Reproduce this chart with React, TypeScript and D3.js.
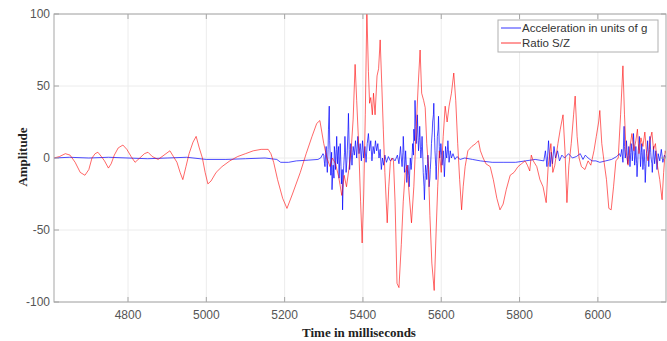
import * as d3 from 'd3';
import React from 'react';

// [time in ms, amplitude]
const acceleration: [number, number][] = [
  [4611, 0], [4650, 0.5], [4700, 0], [4750, 0.5], [4800, 0], [4850, -0.5], [4900, 0], [4950, 0.5],
  [5000, -1], [5050, -1], [5100, -0.5], [5150, 0], [5180, -1], [5190, -3], [5210, -3], [5230, -2],
  [5260, -1.5], [5285, -1], [5292, 0], [5298, 3], [5300, 2], [5302, -4], [5303, -6], [5305, 4],
  [5306, 8], [5308, -4], [5309, -10], [5311, 6], [5312, 20], [5314, 36], [5315, 12], [5316, 5],
  [5318, -12], [5320, 4], [5321, -22], [5323, -10], [5324, -5], [5326, -14], [5327, 8], [5329, 2],
  [5330, -8], [5332, 6], [5333, 15], [5335, -4], [5336, 2], [5338, 8], [5339, -14], [5341, 0],
  [5342, 10], [5344, -6], [5345, -18], [5347, -8], [5348, -36], [5350, -12], [5351, -5], [5353, 4],
  [5354, 15], [5356, 0], [5357, -10], [5359, -2], [5360, 5], [5362, 20], [5363, 31], [5365, 6],
  [5366, -8], [5368, 2], [5369, 10], [5371, 0], [5372, -5], [5374, 4], [5375, 8], [5378, 2],
  [5381, 12], [5384, 0], [5387, 15], [5390, 3], [5393, 10], [5396, -2], [5399, 12], [5402, 0],
  [5405, 8], [5408, -3], [5411, 10], [5414, 17], [5417, 5], [5420, 12], [5423, -2], [5426, 8],
  [5429, 3], [5432, 12], [5435, 5], [5438, 10], [5441, 0], [5444, 6], [5447, -8], [5450, 0],
  [5453, -5], [5456, 2], [5460, -3], [5465, 1], [5470, -2], [5476, 0], [5482, -2], [5488, 2],
  [5492, -4], [5494, 2], [5496, 8], [5498, 0], [5500, -6], [5502, 4], [5503, 15], [5505, 2],
  [5506, -10], [5508, -2], [5509, 5], [5511, -6], [5512, -17], [5514, -8], [5515, -5], [5517, -12],
  [5518, -20], [5520, -6], [5521, 0], [5523, -8], [5524, -5], [5526, 4], [5527, 10], [5529, 2],
  [5530, 20], [5532, 12], [5533, 40], [5535, 22], [5536, 10], [5538, 18], [5539, 30], [5541, 12],
  [5542, 5], [5544, 14], [5545, 22], [5547, 6], [5548, 0], [5550, 8], [5551, 15], [5553, 0],
  [5554, -10], [5556, -20], [5557, -29], [5559, -12], [5560, -5], [5562, -10], [5563, -15], [5565, -4],
  [5566, 2], [5568, -8], [5569, -20], [5571, -14], [5572, -8], [5574, 2], [5575, 10], [5577, 18],
  [5578, 25], [5580, 30], [5581, 38], [5583, 14], [5584, 5], [5586, -6], [5587, -15], [5589, 4],
  [5590, 15], [5592, 20], [5593, 29], [5595, 8], [5596, 0], [5598, 4], [5599, 10], [5601, 2],
  [5602, -5], [5604, 0], [5605, 5], [5607, -6], [5608, -13], [5610, 0], [5611, 8], [5613, 2],
  [5614, 0], [5616, 6], [5617, 12], [5619, 2], [5620, -3], [5623, 5], [5626, 0], [5630, 3],
  [5635, -1], [5640, 1], [5648, -1], [5660, 0], [5680, -1], [5700, -2], [5730, -3], [5760, -3],
  [5790, -3], [5815, -2], [5840, -1], [5862, -2], [5866, 5], [5870, -6], [5874, 12], [5878, -6],
  [5881, 4], [5884, -4], [5888, 8], [5892, 0], [5897, 5], [5902, -2], [5908, 2], [5915, 0],
  [5925, 3], [5935, 0], [5945, 1], [5955, 3], [5962, -1], [5968, 2], [5975, 0], [5985, -2],
  [5995, -2], [6005, -3], [6020, -2], [6035, -1], [6048, 1], [6055, 3], [6058, 1], [6061, 6],
  [6064, -3], [6067, 22], [6068, 8], [6070, 0], [6072, 6], [6073, 12], [6075, 2], [6076, -4],
  [6078, 2], [6079, 8], [6081, 0], [6082, -6], [6084, 4], [6085, 10], [6087, 4], [6088, -2],
  [6090, 8], [6091, 17], [6093, 4], [6094, -5], [6096, 2], [6097, 8], [6099, -4], [6100, -13],
  [6102, -2], [6103, 5], [6105, 10], [6106, 15], [6108, 2], [6109, -6], [6111, 4], [6112, 10],
  [6114, 0], [6115, -8], [6117, 0], [6118, 6], [6120, -6], [6121, -17], [6123, -4], [6124, 3],
  [6126, 6], [6127, 12], [6129, 2], [6130, -6], [6132, 6], [6133, 15], [6135, 4], [6136, 0],
  [6138, -4], [6139, -10], [6141, 2], [6142, 8], [6145, -4], [6148, 5], [6151, -8], [6154, 3],
  [6158, -2], [6162, 6], [6166, -3], [6170, 2], [6174, 0],
];

const ratioSZ: [number, number][] = [
  [4611, 0], [4625, 1], [4640, 3], [4652, 2], [4665, -3], [4678, -10], [4690, -12], [4700, -8],
  [4708, 0], [4716, 3], [4723, 4], [4732, 1], [4740, -2], [4750, -7], [4757, -4], [4765, 2],
  [4775, 7], [4787, 9], [4797, 6], [4808, 1], [4818, -3], [4830, 0], [4842, 3], [4851, 4],
  [4862, 1], [4877, -1], [4892, 2], [4907, 5], [4916, 1], [4925, -3], [4933, -10], [4940, -15],
  [4948, -6], [4956, 3], [4966, 11], [4974, 15], [4982, 7], [4990, 0], [4997, -10], [5004, -18],
  [5012, -16], [5025, -10], [5040, -6], [5060, -2], [5080, 1], [5100, 3], [5120, 5], [5140, 6],
  [5158, 6], [5165, 3], [5172, -3], [5182, -15], [5195, -28], [5206, -35], [5220, -25], [5240, -10],
  [5255, 3], [5270, 15], [5282, 24], [5290, 26], [5300, 10], [5308, 0], [5316, -6], [5322, 0],
  [5330, -4], [5338, -13], [5346, -26], [5352, -12], [5358, -20], [5364, -8], [5370, 6], [5375, 27],
  [5380, 65], [5384, 40], [5389, 10], [5394, -30], [5398, -59], [5402, -25], [5406, 30], [5410, 103],
  [5414, 60], [5417, 38], [5420, 42], [5424, 30], [5427, 45], [5431, 30], [5436, 57], [5440, 62],
  [5444, 82], [5448, 52], [5452, 20], [5456, -10], [5462, -45], [5466, -20], [5470, -3], [5474, 0],
  [5478, -2], [5482, -30], [5487, -87], [5492, -90], [5498, -60], [5503, -30], [5508, -10], [5513, -5],
  [5518, -25], [5524, -45], [5530, -20], [5536, 20], [5541, 50], [5546, 75], [5550, 45], [5555, 40],
  [5559, 35], [5563, 10], [5567, -5], [5571, -40], [5576, -73], [5582, -92], [5587, -50], [5591, -20],
  [5595, 5], [5600, -10], [5605, 15], [5610, 36], [5615, 25], [5620, 36], [5626, 45], [5632, 59],
  [5637, 40], [5642, 10], [5647, -15], [5652, -36], [5656, -20], [5661, -6], [5668, 5], [5678, 8],
  [5688, 10], [5695, 12], [5700, 5], [5707, 0], [5714, -4], [5725, -6], [5733, -15], [5742, -28],
  [5750, -36], [5758, -32], [5766, -22], [5776, -12], [5786, -10], [5796, -6], [5805, -4], [5814, -2],
  [5820, -5], [5826, -9], [5830, 2], [5835, -2], [5844, -6], [5852, -15], [5860, -20], [5868, -31],
  [5873, -6], [5880, 10], [5885, -10], [5890, -5], [5898, 10], [5904, 20], [5911, 30], [5916, 5],
  [5921, -31], [5926, -5], [5932, 10], [5938, 30], [5942, 43], [5947, 15], [5952, 0], [5958, -6],
  [5967, -8], [5975, -2], [5982, -5], [5990, 5], [5996, 15], [6002, 25], [6005, 33], [6010, 10],
  [6016, -3], [6022, -15], [6028, -35], [6034, -36], [6040, -20], [6046, -2], [6052, 0], [6058, 30],
  [6064, 64], [6068, 30], [6072, 5], [6077, -5], [6082, 8], [6087, 17], [6092, 5], [6097, 12],
  [6101, 20], [6105, 3], [6110, 14], [6115, 8], [6120, 18], [6124, 5], [6128, -2], [6133, 12],
  [6138, 18], [6142, 6], [6147, 10], [6152, -5], [6158, -15], [6164, -29], [6168, -10], [6172, 5],
  [6174, 3],
];

const xTicks = [4800, 5000, 5200, 5400, 5600, 5800, 6000];
const yTicks = [-100, -50, 0, 50, 100];
const seriesNames = ['Acceleration in units of g', 'Ratio S/Z'];
const seriesColors = ['#0000ff', '#ff0000'];

const width = 667;
const height = 341;
const left = 54;
const right = 666;
const top = 14;
const bottom = 302;

export default function App() {
  const x = d3.scaleLinear().domain([4611, 6174]).range([left, right]);
  const y = d3.scaleLinear().domain([-100, 100]).range([bottom, top]);

  const line = d3
    .line<[number, number]>()
    .x((d) => x(d[0]))
    .y((d) => y(d[1]));

  const axisColor = '#a6a6a6';
  const labelColor = '#555';

  return (
    <svg
      width={width}
      height={height}
      viewBox={`0 0 ${width} ${height}`}
      style={{ position: 'absolute', left: 0, top: 0, background: '#fff' }}
    >
      {/* grid */}
      {xTicks.map((t) => (
        <line key={'gx' + t} x1={x(t)} x2={x(t)} y1={top} y2={bottom} stroke="#ececec" strokeWidth={1} />
      ))}
      {yTicks.map((t) => (
        <line key={'gy' + t} x1={left} x2={right} y1={y(t)} y2={y(t)} stroke="#ececec" strokeWidth={1} />
      ))}

      <defs>
        <clipPath id="plot-clip">
          <rect x={left} y={top} width={right - left} height={bottom - top} />
        </clipPath>
      </defs>

      <g clipPath="url(#plot-clip)" fill="none" strokeLinejoin="round">
        <path d={line(acceleration) || ''} stroke={seriesColors[0]} strokeWidth={0.7} />
        <path d={line(ratioSZ) || ''} stroke={seriesColors[1]} strokeWidth={0.7} strokeOpacity={0.85} />
      </g>

      {/* box */}
      <rect x={left} y={top} width={right - left} height={bottom - top} fill="none" stroke={axisColor} strokeWidth={1} />

      {/* ticks */}
      {xTicks.map((t) => (
        <g key={'tx' + t}>
          <line x1={x(t)} x2={x(t)} y1={bottom} y2={bottom - 5} stroke={axisColor} />
          <line x1={x(t)} x2={x(t)} y1={top} y2={top + 5} stroke={axisColor} />
          <text
            x={x(t)}
            y={319}
            textAnchor="middle"
            fontFamily="Liberation Sans, Arial, sans-serif"
            fontSize={12}
            fill={labelColor}
          >
            {t}
          </text>
        </g>
      ))}
      {yTicks.map((t) => (
        <g key={'ty' + t}>
          <line x1={left} x2={left + 5} y1={y(t)} y2={y(t)} stroke={axisColor} />
          <line x1={right} x2={right - 5} y1={y(t)} y2={y(t)} stroke={axisColor} />
          <text
            x={50}
            y={y(t) + 4}
            textAnchor="end"
            fontFamily="Liberation Sans, Arial, sans-serif"
            fontSize={12}
            fill={labelColor}
          >
            {t}
          </text>
        </g>
      ))}

      {/* axis labels */}
      <text
        x={359}
        y={337}
        textAnchor="middle"
        fontFamily="Liberation Serif, Times New Roman, serif"
        fontWeight="bold"
        fontSize={13}
        fill="#222"
      >
        Time in milliseconds
      </text>
      <text
        transform="translate(27,157) rotate(-90)"
        textAnchor="middle"
        fontFamily="Liberation Serif, Times New Roman, serif"
        fontWeight="bold"
        fontSize={13}
        fill="#222"
      >
        Amplitude
      </text>

      {/* legend */}
      <g>
        <rect x={498} y={20} width={160} height={32} fill="#fff" stroke="#b0b0b0" strokeWidth={1} />
        {seriesNames.map((name, i) => (
          <g key={name}>
            <line x1={501} x2={521} y1={28 + i * 15} y2={28 + i * 15} stroke={seriesColors[i]} strokeWidth={0.8} />
            <text
              x={522}
              y={32 + i * 15}
              fontFamily="Liberation Sans, Arial, sans-serif"
              fontSize={11.5}
              fill="#333"
            >
              {name}
            </text>
          </g>
        ))}
      </g>
    </svg>
  );
}
